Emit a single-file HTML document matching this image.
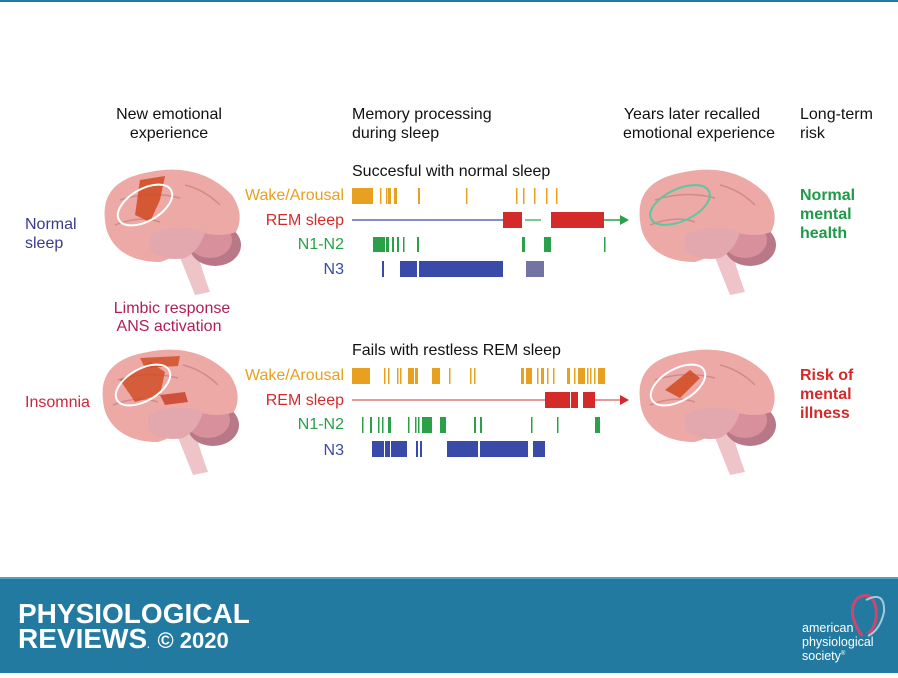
<!DOCTYPE html>
<html><head><meta charset="utf-8"><style>
body{margin:0;width:898px;height:673px;overflow:hidden;background:#fff;font-family:"Liberation Sans",sans-serif}
</style></head><body>
<svg width="898" height="673" viewBox="0 0 898 673" xmlns="http://www.w3.org/2000/svg" font-family="Liberation Sans, sans-serif">
<defs>
<g id="brain">
<path d="M175,245 Q185,270 195,295 L210,292 Q200,265 195,243 Z" fill="#eec4c8"/>
<ellipse cx="215" cy="245" rx="26" ry="21" fill="#b87888"/>
<ellipse cx="210" cy="240" rx="22" ry="18" fill="#d8909c"/>
<path d="M105,220 Q100,180 150,172 Q200,162 232,195 Q245,215 236,232 Q220,238 200,232 Q185,255 160,262 Q135,262 120,250 Q106,238 105,220 Z" fill="#eca9a6"/>
<path d="M150,235 Q175,222 205,232 Q200,250 185,258 Q165,262 150,250 Z" fill="#e3a8ae"/>
<path d="M120,200 Q150,190 180,198 M115,225 Q140,215 160,222 M185,185 Q205,190 220,205" stroke="#d28a8c" stroke-width="1.5" fill="none"/>
</g>
</defs>
<rect x="0" y="0" width="898" height="2" fill="#1f7aa0"/>
<g font-size="16" fill="#111" text-anchor="middle">
<text x="169" y="119">New emotional</text><text x="169" y="138">experience</text>
<text x="692" y="119">Years later recalled</text><text x="699" y="138">emotional experience</text>
</g>
<g font-size="16" fill="#111">
<text x="352" y="119">Memory processing</text><text x="352" y="138">during sleep</text>
<text x="800" y="119">Long-term</text><text x="800" y="138">risk</text>
<text x="352" y="176">Succesful with normal sleep</text>
<text x="352" y="355">Fails with restless REM sleep</text>
</g>
<text x="25" y="229" font-size="16" fill="#3a3a8c">Normal</text>
<text x="25" y="248" font-size="16" fill="#3a3a8c">sleep</text>
<text x="25" y="407" font-size="16" fill="#c8283c">Insomnia</text>
<text x="172" y="313" font-size="16" fill="#b01e5a" text-anchor="middle">Limbic response</text>
<text x="169" y="331" font-size="16" fill="#b01e5a" text-anchor="middle">ANS activation</text>
<g font-size="16" font-weight="bold" fill="#1f9a4a"><text x="800" y="200">Normal</text><text x="800" y="219">mental</text><text x="800" y="238">health</text></g>
<g font-size="16" font-weight="bold" fill="#d42a2a"><text x="800" y="380">Risk of</text><text x="800" y="399">mental</text><text x="800" y="418">illness</text></g>
<g font-size="16" text-anchor="end">
<text x="344" y="200" fill="#e8a020">Wake/Arousal</text><text x="344" y="225" fill="#d42a2a">REM sleep</text><text x="344" y="249" fill="#2aa048">N1-N2</text><text x="344" y="274" fill="#3a4aa8">N3</text>
<text x="344" y="380" fill="#e8a020">Wake/Arousal</text><text x="344" y="405" fill="#d42a2a">REM sleep</text><text x="344" y="429" fill="#2aa048">N1-N2</text><text x="344" y="455" fill="#3a4aa8">N3</text>
</g>
<use href="#brain"/>
<path d="M140,180 L165,176 L160,200 L150,222 L135,215 Z" fill="#d04a20" opacity="0.85"/>
<ellipse cx="145" cy="205" rx="30" ry="16" transform="rotate(-30 145 205)" fill="none" stroke="#fff" stroke-width="2"/>
<use href="#brain" transform="translate(-2,180)"/>
<path d="M120,380 L150,362 L165,372 L160,395 L135,402 Z" fill="#d04a20" opacity="0.8"/>
<path d="M140,358 L180,356 L178,366 L145,368 Z" fill="#d04a20" opacity="0.8"/>
<path d="M160,395 L185,392 L188,402 L165,405 Z" fill="#c83a20" opacity="0.8"/>
<ellipse cx="143" cy="385" rx="30" ry="16" transform="rotate(-30 143 385)" fill="none" stroke="#fff" stroke-width="2"/>
<use href="#brain" transform="translate(535,0)"/>
<ellipse cx="680" cy="205" rx="32" ry="16" transform="rotate(-25 680 205)" fill="none" stroke="#5ac8a0" stroke-width="2"/>
<use href="#brain" transform="translate(535,180)"/>
<path d="M665,390 L690,370 L700,378 L680,398 Z" fill="#d04a20" opacity="0.85"/>
<ellipse cx="678" cy="385" rx="30" ry="16" transform="rotate(-30 678 385)" fill="none" stroke="#fff" stroke-width="2"/>
<g fill="#e8a020">
<rect x="352" y="188" width="21" height="16"/>
<rect x="380" y="188" width="1.5" height="16"/><rect x="386" y="188" width="1.5" height="16"/><rect x="388" y="188" width="3" height="16"/><rect x="394" y="188" width="3" height="16"/><rect x="418" y="188" width="2" height="16"/><rect x="466" y="188" width="1.5" height="16"/><rect x="516" y="188" width="1.5" height="16"/><rect x="523" y="188" width="1.5" height="16"/><rect x="534" y="188" width="1.5" height="16"/><rect x="546" y="188" width="1.5" height="16"/><rect x="556" y="188" width="1.5" height="16"/>
</g>
<line x1="352" y1="220" x2="503" y2="220" stroke="#3a4aa8" stroke-width="1.2"/>
<line x1="525" y1="220" x2="541" y2="220" stroke="#2aa048" stroke-width="1.2"/>
<line x1="604" y1="220" x2="622" y2="220" stroke="#2aa048" stroke-width="1.5"/>
<path d="M620,215 L629,220 L620,225 Z" fill="#2aa048"/>
<g fill="#d42a2a"><rect x="503" y="212" width="19" height="16"/><rect x="551" y="212" width="53" height="16"/></g>
<g fill="#2aa048"><rect x="373" y="237" width="12" height="15"/><rect x="386" y="237" width="3" height="15"/><rect x="392" y="237" width="2" height="15"/><rect x="397" y="237" width="2" height="15"/><rect x="403" y="237" width="1.5" height="15"/><rect x="417" y="237" width="2" height="15"/><rect x="522" y="237" width="3" height="15"/><rect x="544" y="237" width="7" height="15"/><rect x="604" y="237" width="1.5" height="15"/></g>
<g fill="#3a4aa8"><rect x="382" y="261" width="2" height="16"/><rect x="400" y="261" width="17" height="16"/><rect x="419" y="261" width="84" height="16"/></g>
<rect x="526" y="261" width="18" height="16" fill="#7474a4"/>
<g fill="#e8a020">
<rect x="352" y="368" width="18" height="16"/><rect x="384" y="368" width="1.5" height="16"/><rect x="388" y="368" width="1.5" height="16"/><rect x="397" y="368" width="1.5" height="16"/><rect x="400" y="368" width="1.5" height="16"/><rect x="408" y="368" width="6" height="16"/><rect x="415" y="368" width="3" height="16"/><rect x="432" y="368" width="8" height="16"/><rect x="449" y="368" width="1.5" height="16"/><rect x="470" y="368" width="1.5" height="16"/><rect x="474" y="368" width="1.5" height="16"/><rect x="521" y="368" width="3" height="16"/><rect x="526" y="368" width="6" height="16"/><rect x="537" y="368" width="1.5" height="16"/><rect x="541" y="368" width="3" height="16"/><rect x="547" y="368" width="1.5" height="16"/><rect x="553" y="368" width="1.5" height="16"/><rect x="567" y="368" width="3" height="16"/><rect x="574" y="368" width="1.5" height="16"/><rect x="578" y="368" width="7" height="16"/><rect x="587" y="368" width="1.5" height="16"/><rect x="590" y="368" width="1.5" height="16"/><rect x="594" y="368" width="1.5" height="16"/><rect x="598" y="368" width="7" height="16"/>
</g>
<line x1="352" y1="400" x2="545" y2="400" stroke="#d87878" stroke-width="1.5"/>
<line x1="595" y1="400" x2="622" y2="400" stroke="#d87878" stroke-width="1.5"/>
<path d="M620,395 L629,400 L620,405 Z" fill="#d42a2a"/>
<g fill="#d42a2a"><rect x="545" y="392" width="25" height="16"/><rect x="571" y="392" width="7" height="16"/><rect x="583" y="392" width="12" height="16"/></g>
<g fill="#2aa048"><rect x="362" y="417" width="1.5" height="16"/><rect x="370" y="417" width="2" height="16"/><rect x="378" y="417" width="1.5" height="16"/><rect x="382" y="417" width="1.5" height="16"/><rect x="388" y="417" width="3" height="16"/><rect x="408" y="417" width="1.5" height="16"/><rect x="415" y="417" width="1.5" height="16"/><rect x="418" y="417" width="1.5" height="16"/><rect x="422" y="417" width="10" height="16"/><rect x="440" y="417" width="6" height="16"/><rect x="474" y="417" width="2" height="16"/><rect x="480" y="417" width="2" height="16"/><rect x="531" y="417" width="1.5" height="16"/><rect x="557" y="417" width="1.5" height="16"/><rect x="595" y="417" width="5" height="16"/></g>
<g fill="#3a4aa8"><rect x="372" y="441" width="12" height="16"/><rect x="385" y="441" width="5" height="16"/><rect x="391" y="441" width="16" height="16"/><rect x="416" y="441" width="2" height="16"/><rect x="420" y="441" width="2" height="16"/><rect x="447" y="441" width="31" height="16"/><rect x="480" y="441" width="48" height="16"/><rect x="533" y="441" width="12" height="16"/></g>
<rect x="0" y="577" width="898" height="96" fill="#227aa1"/>
<rect x="0" y="577" width="898" height="2" fill="#5a9ec0"/>
<text x="18" y="623" font-size="28" font-weight="bold" fill="#fff">PHYSIOLOGICAL</text>
<text x="18" y="648" font-size="28" font-weight="bold" fill="#fff">REVIEWS<tspan font-size="9">.</tspan> <tspan font-size="22">© 2020</tspan></text>
<path d="M862,636 Q845,610 858,598 Q872,590 876,608 Q878,625 868,634" fill="none" stroke="#c84870" stroke-width="3"/>
<path d="M866,600 Q885,590 884,612 Q880,630 868,636" fill="none" stroke="#a8c8d8" stroke-width="2"/>
<text x="802" y="632" font-size="12.5" fill="#fff">american</text>
<text x="802" y="646" font-size="12.5" fill="#fff">physiological</text>
<text x="802" y="660" font-size="12.5" fill="#fff">society<tspan font-size="6" dy="-5">®</tspan></text>
</svg>
</body></html>
